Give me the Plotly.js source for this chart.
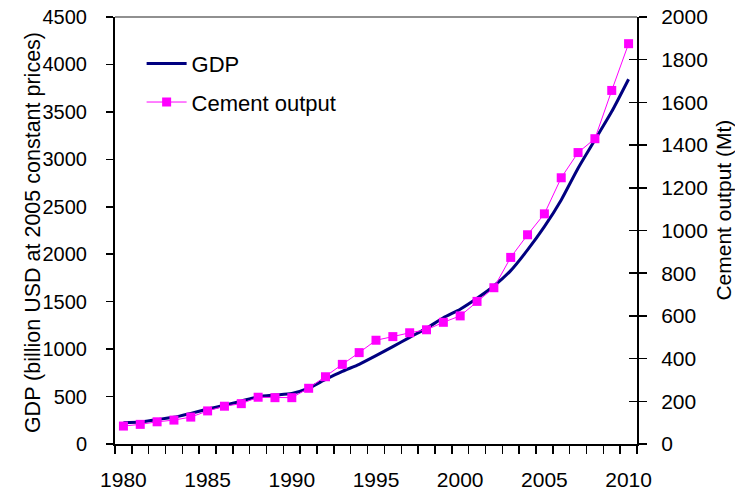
<!DOCTYPE html>
<html>
<head>
<meta charset="utf-8">
<script src="https://cdn.plot.ly/plotly-3.0.1.min.js"></script>
<style>html,body{margin:0;padding:0;background:#fff;}#chart{width:735px;height:491px;}</style>
</head>
<body>
<div id="chart"></div>
<script>
const years = [1980,1981,1982,1983,1984,1985,1986,1987,1988,1989,1990,1991,1992,1993,1994,1995,1996,1997,1998,1999,2000,2001,2002,2003,2004,2005,2006,2007,2008,2009,2010];
const gdp = [225,232,258,282,323,368,408,452,498,516,532,588,680,765,840,931,1026,1124,1219,1330,1420,1535,1665,1827,2045,2290,2572,2906,3204,3503,3844];
const cement = [84,92,104,112,126,155,177,189,219,217,217,261,315,373,428,486,503,521,535,570,600,668,732,874,980,1078,1247,1365,1430,1656,1875];
const xTickVals = [1980,1985,1990,1995,2000,2005,2010];
const leftTitle = 'GDP (billion USD at 2005 constant prices)';
const rightTitle = 'Cement output (Mt)';

const FONT = '"Liberation Sans", Arial, sans-serif';

const traces = [
  {
    x: years, y: gdp, name: 'GDP', type: 'scatter', mode: 'lines',
    line: {color: '#000080', width: 3, shape: 'spline', smoothing: 0.6},
    yaxis: 'y', legendgroup: 'a'
  },
  {
    x: years, y: cement, name: 'Cement output', type: 'scatter', mode: 'lines+markers',
    line: {color: '#FF00FF', width: 1},
    marker: {symbol: 'square', size: 9, color: '#FF00FF'},
    yaxis: 'y2', legendgroup: 'b'
  },
  {x: [1980], y: [0], yaxis: 'y3', type: 'scatter', mode: 'markers', marker: {opacity: 0}, showlegend: false, hoverinfo: 'skip'}
];

const layout = {
  width: 735, height: 491,
  margin: {l: 115, r: 98, t: 17, b: 47},
  paper_bgcolor: '#fff', plot_bgcolor: '#fff',
  font: {family: FONT, size: 21, color: '#000'},
  showlegend: true,
  legend: {
    x: 0.051, y: 0.94, xanchor: 'left', yanchor: 'top',
    bgcolor: 'rgba(0,0,0,0)', font: {family: FONT, size: 22, color: '#000'},
    itemwidth: 40, traceorder: 'grouped', tracegroupgap: 7
  },
  xaxis: {
    range: [1979.5, 2010.5], tickvals: xTickVals, ticktext: xTickVals.map(String),
    ticks: '', showgrid: false, zeroline: false,
    showline: true, linecolor: '#000', linewidth: 2,
    minor: {ticks: 'outside', ticklen: 8, tickwidth: 1.5, tickcolor: '#000', tick0: 1979.5, dtick: 1, showgrid: false},
    tickfont: {family: FONT, size: 21}, ticklabelstandoff: 16
  },
  yaxis: {
    range: [0, 4500], dtick: 500, tick0: 0,
    ticks: 'outside', ticklen: 7, tickwidth: 1.5, tickcolor: '#000',
    showgrid: false, zeroline: false, showline: true, linecolor: '#000', linewidth: 2,
    tickfont: {family: FONT, size: 20}, ticklabelstandoff: 15,
    automargin: false
  },
  yaxis2: {
    range: [0, 2000], dtick: 200, tick0: 0, overlaying: 'y', side: 'right', anchor: 'x',
    ticks: 'outside', ticklen: 8, tickwidth: 1.5, tickcolor: '#000',
    showgrid: false, zeroline: false, showline: true, linecolor: '#000', linewidth: 2,
    tickfont: {family: FONT, size: 21}, ticklabelstandoff: 10,
    automargin: false
  },
  yaxis3: {
    range: [0, 2000], dtick: 200, tick0: 0, overlaying: 'y', side: 'right', anchor: 'x',
    ticks: 'inside', ticklen: 8, tickwidth: 1.5, tickcolor: '#000',
    showticklabels: false, showgrid: false, zeroline: false, showline: false
  },
  shapes: [
    {type: 'line', xref: 'paper', yref: 'paper', x0: 0, x1: 1, y0: 1, y1: 1, line: {color: '#909090', width: 2}}
  ],
  annotations: [
    {text: leftTitle, xref: 'paper', yref: 'paper', x: -0.157, y: 0.494, xanchor: 'center', yanchor: 'middle',
     textangle: -90, showarrow: false, font: {family: FONT, size: 21.5, color: '#000'}},
    {text: rightTitle, xref: 'paper', yref: 'paper', x: 1.164, y: 0.548, xanchor: 'center', yanchor: 'middle',
     textangle: -90, showarrow: false, font: {family: FONT, size: 21, color: '#000'}}
  ]
};

Plotly.newPlot('chart', traces, layout, {staticPlot: true, displayModeBar: false});
</script>
</body>
</html>
